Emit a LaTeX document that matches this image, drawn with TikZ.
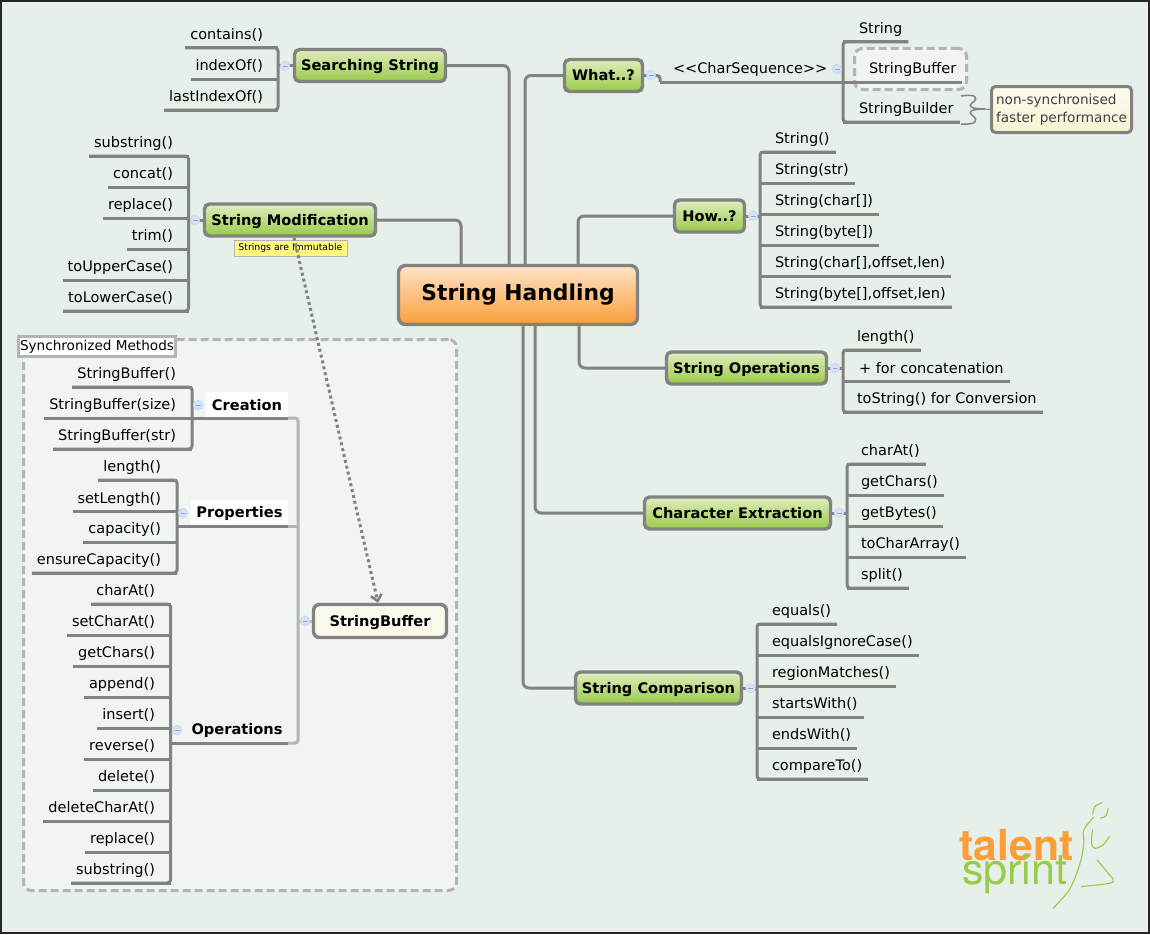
\documentclass[tikz,border=0pt]{standalone}
\usepackage{fontspec}
\setmainfont{DejaVu Sans}
\newfontfamily\logofont{TeX Gyre Heros}
\usetikzlibrary{arrows.meta}
\definecolor{paper}{HTML}{E6EFE8}
\definecolor{linegray}{HTML}{828282}
\definecolor{palegray}{HTML}{B4B4B4}
\definecolor{talentorange}{HTML}{FB9E38}
\definecolor{sprintgreen}{HTML}{98CB4A}
\definecolor{topictop}{HTML}{E0EDBD}
\definecolor{roottop}{HTML}{FDE4C8}
\definecolor{cream}{HTML}{FBF8EC}
\definecolor{notetop}{HTML}{FDFCF0}
\definecolor{notebottom}{HTML}{F6F3D2}
\definecolor{markfill}{HTML}{D6E2F7}
\definecolor{markedge}{HTML}{C4D6F4}
\definecolor{markdash}{HTML}{8FA8DC}
\tikzset{
    leaffont/.style={font=\fontsize{14.5}{17}\selectfont},
    leafbase/.style={leaffont, outer sep=0pt, inner ysep=5pt, text height=11pt, text depth=3.5pt},
    leafl/.style={leafbase, inner xsep=5pt, anchor=south east},
    leafr/.style={leafbase, inner xsep=6pt, anchor=south west},
    branch/.style={line width=3pt, draw=linegray},
    palebranch/.style={line width=3pt, draw=palegray},
    topic/.style={draw=linegray, line width=3.4pt, rounded corners=5pt, top color=topictop, bottom color=sprintgreen, minimum height=32pt, inner sep=0pt, text height=13pt, text depth=3pt, font=\fontsize{14.6}{17}\bfseries\selectfont},
    subtopic/.style={fill=white, outer sep=0pt, inner sep=0pt, minimum height=26pt, font=\fontsize{14.6}{17}\bfseries\selectfont},
    framed/.style={draw=palegray, line width=3pt, dash pattern=on 8pt off 4pt, rounded corners=8pt, fill=white, fill opacity=0.4, inner sep=0pt},
    collapse/.style={circle, draw=markedge, fill=markfill, minimum size=9.5pt, inner sep=0pt, line width=.7pt,
        path picture={\draw[markdash, line width=.7pt] ([xshift=-2.5pt]path picture bounding box.center) -- ([xshift=2.5pt]path picture bounding box.center);}},
}
\begin{document}
\begin{tikzpicture}[x=1pt, y=-1pt]
    \useasboundingbox (0,0) rectangle (1150,934);
    \fill[paper] (0,0) rectangle (1150,934);
    \draw[line width=2pt, draw=black!85] (1,1) rectangle (1149,933);

    \node[framed, minimum width=433pt, minimum height=551pt] (syncframe) at (240,615) {};
    \node[framed, minimum width=112pt, minimum height=41pt] (bufferframe) at (910.5,69) {};

    % centre and main branches
    \node[draw=linegray, line width=3.4pt, rounded corners=7pt, top color=roottop, bottom color=talentorange, minimum width=239pt, minimum height=59pt, inner sep=0pt, font=\fontsize{21.8}{26}\bfseries\selectfont] (root) at (518,295) {String Handling};
    \node[topic, minimum width=151pt] (searching) at (370,65.5) {Searching String};
    \node[topic, minimum width=171pt] (modification) at (290,220) {String Modification};
    \node[topic, minimum width=78pt] (what) at (603.5,75.5) {What..?};
    \node[topic, minimum width=70pt] (how) at (709.5,216) {How..?};
    \node[topic, minimum width=160pt] (operations) at (746.5,368) {String Operations};
    \node[topic, minimum width=186pt] (extraction) at (737.5,513) {Character Extraction};
    \node[topic, minimum width=166pt] (comparison) at (658.5,688) {String Comparison};

    \draw[branch, rounded corners=6pt] (searching.east) -| ([xshift=-9pt]root.north);
    \draw[branch, rounded corners=6pt] (modification.east) -| ([xshift=-57pt]root.north);
    \draw[branch, rounded corners=6pt] (what.west) -| ([xshift=7pt]root.north);
    \draw[branch, rounded corners=6pt] (how.west) -| ([xshift=60pt]root.north);
    \draw[branch, rounded corners=6pt] (operations.west) -| ([xshift=61pt]root.south);
    \draw[branch, rounded corners=6pt] (extraction.west) -| ([xshift=17pt]root.south);
    \draw[branch, rounded corners=6pt] (comparison.west) -| ([xshift=5pt]root.south);

    % searching
    \coordinate (searchspine) at (278,79);
    \foreach \nm/\txt/\yy in {contains/contains()/48, indexof/indexOf()/79, lastindexof/lastIndexOf()/110}{
        \node[leafl] (\nm) at (268,\yy) {\txt};
        \draw[branch] (\nm.south west) -- (\nm.south west -| searchspine);
    }
    \draw[branch, rounded corners=3pt] (contains.south west) -| (searchspine) |- (lastindexof.south west);
    \draw[branch] (searchspine |- searching.west) -- (searching.west);

    % modification
    \coordinate (modspine) at (188.5,218);
    \foreach \nm/\txt/\yy in {modsubstring/substring()/156, modconcat/concat()/187, modreplace/replace()/218, modtrim/trim()/249, modupper/toUpperCase()/280, modlower/toLowerCase()/311}{
        \node[leafl] (\nm) at (178,\yy) {\txt};
        \draw[branch] (\nm.south west) -- (\nm.south west -| modspine);
    }
    \draw[branch, rounded corners=3pt] (modsubstring.south west) -| (modspine) |- (modlower.south west);
    \draw[branch] (modspine |- modification.west) -- (modification.west);
    \node[draw=palegray, fill=yellow!50!white, line width=.8pt, minimum width=113pt, minimum height=16pt, inner sep=0pt, font=\fontsize{9.3}{11}\selectfont, anchor=north west] (immutable) at (233.5,239.5) {Strings are Immutable};

    % what
    \node[leaffont, outer sep=0pt, anchor=south west, inner xsep=13pt, inner ysep=5pt, text height=11pt, text depth=3.5pt] (charseq) at (660,82) {<{}<CharSequence>{}>};
    \coordinate (whatspine) at (843,82);
    \draw[branch, rounded corners=3pt] (what.east) -| (charseq.south west);
    \draw[branch] (charseq.south west) -- (whatspine);
    \foreach \nm/\txt/\xx/\yy in {whatstring/String/853/42, whatbuffer/StringBuffer/863/82, whatbuilder/StringBuilder/853/122}{
        \node[leafr] (\nm) at (\xx,\yy) {\txt};
        \draw[branch] (\nm.south east) -- (\nm.south east -| whatspine);
    }
    \draw[branch, rounded corners=3pt] (whatstring.south east) -| (whatspine) |- (whatbuilder.south east);

    % how
    \coordinate (howspine) at (760,216);
    \foreach \nm/\txt/\yy in {ctorempty/String()/152, ctorstr/String(str)/183, ctorchar/String(char[])/214, ctorbyte/String(byte[])/245, ctorcharoff/{String(char[],offset,len)}/276, ctorbyteoff/{String(byte[],offset,len)}/307}{
        \node[leafr] (\nm) at (769,\yy) {\txt};
        \draw[branch] (\nm.south east) -- (\nm.south east -| howspine);
    }
    \draw[branch, rounded corners=3pt] (ctorempty.south east) -| (howspine) |- (ctorbyteoff.south east);
    \draw[branch] (how.east) -- (howspine);

    % operations
    \coordinate (opsspine) at (843,381.5);
    \foreach \nm/\txt/\xx/\yy in {opslength/length()/851/350, opsconcat/+ for concatenation/853/381.5, opsstring/toString() for Conversion/851/412}{
        \node[leafr] (\nm) at (\xx,\yy) {\txt};
        \draw[branch] (\nm.south east) -- (\nm.south east -| opsspine);
    }
    \draw[branch, rounded corners=3pt] (opslength.south east) -| (opsspine) |- (opsstring.south east);
    \draw[branch] (operations.east) -- (operations.east -| opsspine);

    % extraction
    \coordinate (extspine) at (847,526);
    \foreach \nm/\txt/\yy in {extcharat/charAt()/464, extgetchars/getChars()/495, extgetbytes/getBytes()/526, exttochar/toCharArray()/557, extsplit/split()/588}{
        \node[leafr] (\nm) at (855,\yy) {\txt};
        \draw[branch] (\nm.south east) -- (\nm.south east -| extspine);
    }
    \draw[branch, rounded corners=3pt] (extcharat.south east) -| (extspine) |- (extsplit.south east);
    \draw[branch] (extraction.east) -- (extraction.east -| extspine);

    % comparison
    \coordinate (cmpspine) at (757,688);
    \foreach \nm/\txt/\yy in {cmpequals/equals()/624, cmpignore/equalsIgnoreCase()/655, cmpregion/regionMatches()/686, cmpstarts/startsWith()/717, cmpends/endsWith()/748, cmpto/compareTo()/779}{
        \node[leafr] (\nm) at (766,\yy) {\txt};
        \draw[branch] (\nm.south east) -- (\nm.south east -| cmpspine);
    }
    \draw[branch, rounded corners=3pt] (cmpequals.south east) -| (cmpspine) |- (cmpto.south east);
    \draw[branch] (comparison.east) -- (cmpspine);

    % synchronized part
    \node[draw=palegray, line width=3pt, fill=white, inner xsep=1.5pt, inner ysep=3pt, font=\fontsize{13.6}{16}\selectfont, anchor=north west, text height=11pt, text depth=3pt] (synclabel) at (17,334.5) {Synchronized Methods};
    \node[draw=linegray, line width=3.4pt, rounded corners=6pt, fill=cream, minimum width=133pt, minimum height=33pt, inner sep=0pt, text height=13pt, text depth=3pt, font=\fontsize{14.6}{17}\bfseries\selectfont] (stringbuffer) at (380,621) {StringBuffer};
    \node[subtopic, minimum width=82pt, anchor=south west] (creation) at (206,418) {Creation};
    \node[subtopic, minimum width=97pt, anchor=south west] (properties) at (191,526) {Properties};
    \node[subtopic, fill=none, minimum width=102pt, anchor=south west] (bufferops) at (186,743) {Operations};

    \coordinate (bufferspine) at (298,621);
    \draw[palebranch, rounded corners=3pt] (creation.south east) -| (bufferspine) |- (bufferops.south east);
    \draw[palebranch] (properties.south east) -- (properties.south east -| bufferspine);
    \draw[palebranch] (bufferspine) -- (stringbuffer.west);

    \coordinate (creationspine) at (192,418);
    \foreach \nm/\txt/\yy in {newempty/StringBuffer()/387, newsize/StringBuffer(size)/418, newstr/StringBuffer(str)/449}{
        \node[leafl] (\nm) at (181,\yy) {\txt};
        \draw[branch] (\nm.south west) -- (\nm.south west -| creationspine);
    }
    \draw[branch, rounded corners=3pt] (newempty.south west) -| (creationspine) |- (newstr.south west);
    \draw[branch] (creationspine) -- (creation.south east);

    \coordinate (propspine) at (177,526);
    \foreach \nm/\txt/\yy in {proplength/length()/480, propset/setLength()/511.5, propcapacity/capacity()/542, propensure/ensureCapacity()/573}{
        \node[leafl] (\nm) at (166,\yy) {\txt};
        \draw[branch] (\nm.south west) -- (\nm.south west -| propspine);
    }
    \draw[branch, rounded corners=3pt] (proplength.south west) -| (propspine) |- (propensure.south west);
    \draw[branch] (propspine) -- (properties.south east);

    \coordinate (bufopsspine) at (170.5,743);
    \foreach \nm/\txt/\yy in {bufcharat/charAt()/604, bufset/setCharAt()/635, bufgetchars/getChars()/666, bufappend/append()/697, bufinsert/insert()/728, bufreverse/reverse()/759, bufdelete/delete()/790, bufdeletechar/deleteCharAt()/821, bufreplace/replace()/852, bufsubstring/substring()/883}{
        \node[leafl] (\nm) at (160,\yy) {\txt};
        \draw[branch] (\nm.south west) -- (\nm.south west -| bufopsspine);
    }
    \draw[branch, rounded corners=3pt] (bufcharat.south west) -| (bufopsspine) |- (bufsubstring.south west);
    \draw[branch] (bufopsspine) -- (bufferops.south east);

    % dependency
    \draw[line width=3pt, draw=linegray, dash pattern=on 3pt off 3pt, -{Straight Barb[length=6pt, width=11pt, line width=2.6pt]}] ([xshift=4pt]modification.south) -- ([xshift=-2pt]stringbuffer.north);

    % note on the builder
    \node[draw=linegray, line width=3pt, rounded corners=4pt, top color=notetop, bottom color=notebottom, minimum width=140pt, minimum height=46pt, inner sep=0pt, text=black!75, align=left, font=\fontsize{13.6}{18.5}\selectfont] (buildernote) at (1061.5,109.5) {non-synchronised\\faster performance};
    \coordinate (bracetip) at (985,109);
    \draw[linegray, line width=1.5pt] (961,96) .. controls (975,94) and (980,97) .. (972,103) .. controls (968,106) and (970,109) .. (bracetip);
    \draw[linegray, line width=1.5pt] (961,124) .. controls (975,125) and (980,121) .. (972,115) .. controls (968,112) and (970,109) .. (bracetip);
    \draw[linegray, line width=1pt] (bracetip) -- (buildernote.west);

    % collapse marks
    \foreach \xx/\yy [count=\i] in {285/66, 195/220, 651/75, 837/69, 753/216, 835/368, 839/513, 750.5/688, 198/405, 183/513, 177/730, 305/621}
        \node[collapse] (mark\i) at (\xx,\yy) {};

    % logo
    \node[text=talentorange, font=\fontsize{42.7}{50}\logofont\bfseries, inner sep=0pt, anchor=base west] (logotalent) at (959,860) {talent};
    \node[text=sprintgreen, font=\fontsize{43}{46}\logofont, inner sep=0pt, anchor=base west] (logosprint) at (962,884) {sprint};
    \begin{scope}[shift={(900,780)}, x=0.333pt, y=-0.333pt, sprintgreen, line width=1.1pt, line cap=round]
        \draw plot[smooth] coordinates {(579,103) (585,80) (607,68)};
        \draw plot[smooth] coordinates {(625,85) (618,108) (602,114)};
        \draw plot[smooth] coordinates {(581,112) (552,150) (552,185) (545,235) (527,290) (505,335) (460,385)};
        \draw plot[smooth] coordinates {(578,150) (575,190) (585,205) (610,195) (630,168)};
        \draw plot[smooth] coordinates {(592,240) (625,280) (640,298) (630,310) (545,320)};
    \end{scope}
\end{tikzpicture}
\end{document}
